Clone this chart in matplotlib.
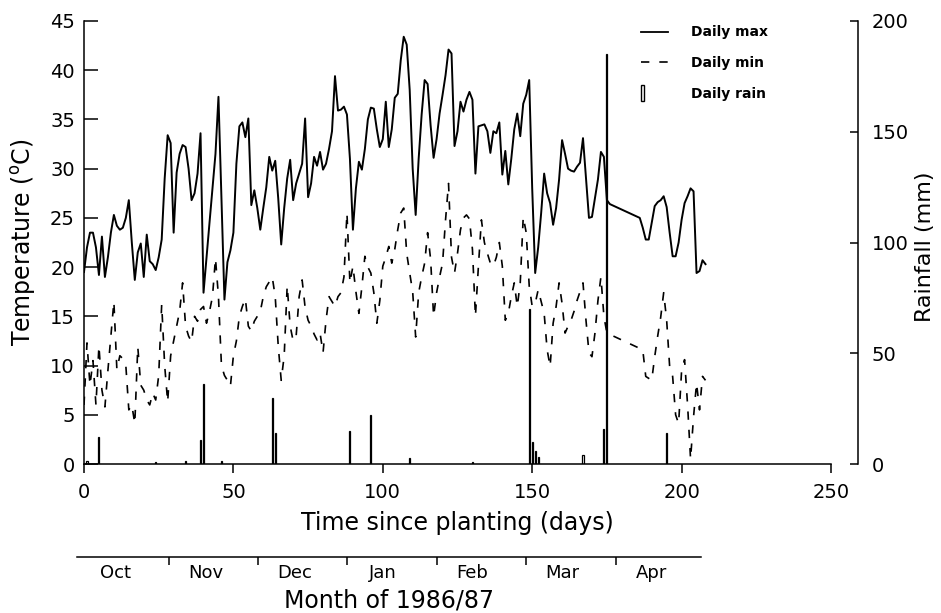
import matplotlib
matplotlib.use("Agg")
import matplotlib.pyplot as plt
import matplotlib.transforms as mtransforms
from matplotlib.lines import Line2D
from matplotlib.patches import Rectangle
from matplotlib.legend_handler import HandlerPatch

# daily maximum temperature (deg C); days 177-185 missing in the record
max_days = list(range(0, 177)) + list(range(186, 209))
max_temp = [
    19.5, 22.0, 23.5, 23.5, 22.0, 19.2, 23.1, 19.0, 21.0, 23.5,
    25.3, 24.2, 23.8, 24.0, 25.0, 26.8, 22.5, 18.7, 21.5, 22.4,
    19.0, 23.3, 20.6, 20.3, 19.7, 21.0, 22.8, 29.0, 33.4, 32.6,
    23.5, 29.6, 31.5, 32.4, 32.2, 30.0, 26.8, 27.5, 29.5, 33.6,
    17.4, 21.0, 24.5, 28.0, 31.5, 37.3, 27.0, 16.7, 20.5, 21.7,
    23.5, 30.5, 34.3, 34.7, 33.2, 35.1, 26.3, 27.8, 26.0, 23.8,
    26.0, 28.1, 31.2, 29.8, 30.8, 27.0, 22.3, 26.0, 29.0, 30.9,
    26.8, 28.5, 29.5, 30.5, 35.1, 27.1, 28.5, 31.2, 30.3, 31.7,
    29.9, 30.5, 32.0, 33.8, 39.4, 35.9, 36.0, 36.3, 35.5, 31.0,
    23.8, 28.0, 30.7, 29.9, 32.0, 35.0, 36.2, 36.1, 34.0, 32.2,
    33.0, 36.8, 32.2, 34.0, 37.2, 37.6, 41.0, 43.4, 42.6, 38.0,
    30.0, 25.3, 31.0, 35.5, 39.0, 38.6, 34.4, 31.1, 33.0, 35.6,
    37.5, 39.5, 42.1, 41.7, 32.3, 33.8, 36.8, 35.8, 37.0, 37.8,
    37.0, 29.5, 34.3, 34.4, 34.5, 33.8, 31.6, 33.8, 33.6, 34.7,
    29.4, 31.8, 28.4, 31.0, 34.0, 35.6, 33.3, 36.6, 37.5, 39.0,
    28.0, 19.4, 22.0, 25.5, 29.5, 27.5, 26.5, 24.3, 26.0, 28.9,
    32.9, 31.5, 30.0, 29.8, 29.7, 30.2, 30.6, 33.1, 29.0, 25.0,
    25.1, 27.0, 28.9, 31.7, 31.2, 26.8, 26.4,
    25.0, 24.0, 22.8, 22.8, 24.5, 26.2, 26.6, 26.8, 27.2, 26.1,
    23.5, 21.1, 21.1, 22.5, 24.8, 26.5, 27.2, 28.0, 27.7, 19.4,
    19.6, 20.7, 20.3,
]

# daily minimum temperature (deg C)
min_days = list(range(0, 176)) + list(range(187, 209))
min_temp = [
    6.0, 12.3, 8.0, 10.5, 6.0, 12.0, 7.5, 5.8, 9.5, 13.0,
    16.5, 9.6, 11.0, 10.7, 10.0, 5.5, 6.0, 4.1, 11.9, 8.0,
    7.5, 6.5, 6.0, 7.2, 6.5, 9.0, 16.2, 10.0, 6.3, 11.0,
    12.5, 14.0, 15.5, 18.4, 14.0, 13.0, 12.4, 15.0, 14.5, 15.7,
    16.0, 14.3, 15.5, 17.0, 20.9, 17.0, 10.0, 9.0, 8.5, 7.9,
    11.0, 12.5, 15.0, 16.0, 16.8, 14.0, 13.5, 14.5, 15.0, 15.5,
    17.0, 18.0, 18.5, 19.0, 17.0, 12.0, 8.5, 11.0, 18.1, 14.0,
    12.5, 13.0, 17.0, 18.7, 15.9, 14.6, 14.0, 13.2, 12.6, 13.3,
    11.3, 14.6, 17.0, 16.5, 16.0, 17.0, 17.4, 19.0, 25.5, 18.4,
    20.1, 17.5, 15.3, 18.0, 21.1, 20.0, 19.4, 17.4, 14.3, 16.6,
    20.1, 21.0, 22.1, 20.4, 21.8, 23.8, 25.5, 26.0, 21.4, 19.4,
    17.5, 12.9, 17.4, 19.0, 20.4, 23.5, 20.8, 15.0, 17.4, 19.0,
    20.4, 24.8, 28.5, 21.0, 19.4, 21.4, 23.8, 25.0, 25.3, 24.9,
    21.8, 15.0, 20.1, 24.8, 22.5, 21.4, 20.4, 20.1, 21.0, 22.5,
    20.1, 14.6, 15.3, 17.0, 18.4, 16.0, 18.4, 25.1, 23.5, 18.1,
    16.0, 16.3, 17.7, 16.5, 15.3, 11.6, 9.9, 14.3, 16.0, 18.4,
    16.3, 13.3, 14.0, 14.6, 15.5, 16.6, 17.5, 18.4, 14.6, 11.3,
    10.9, 13.3, 16.6, 19.0, 15.0, 13.3,
    11.6, 8.9, 8.7, 8.5, 10.9, 13.0, 14.9, 17.4, 14.6, 9.9,
    8.9, 5.0, 4.1, 9.5, 10.6, 6.0, 0.5, 4.8, 8.2, 5.5,
    8.9, 8.5,
]

# daily rainfall (mm), rain days only
rain_days = [1, 5, 24, 34, 39, 40, 46, 63, 64, 89, 96, 109, 130,
             149, 150, 151, 152, 167, 174, 175, 195]
rain_mm = [1.5, 12, 0.8, 1.2, 11, 36, 1.5, 30, 14, 15, 22, 2.5, 1,
           70, 10, 6, 3, 4, 16, 185, 14]

# calendar months along the day axis
month_edges = [28.5, 58.3, 88.0, 118.0, 148.0, 178.0]
month_centres = [10.4, 40.7, 70.6, 100.0, 130.0, 160.0, 190.0]
month_names = ["Oct", "Nov", "Dec", "Jan", "Feb", "Mar", "Apr"]
month_span = (-2.4, 206.6)

W, H = 941, 613
fig = plt.figure(figsize=(W / 100, H / 100), dpi=100)

x0, x1, ytop, ybot = 84, 831, 21, 464
ax = fig.add_axes([x0 / W, 1 - ybot / H, (x1 - x0) / W, (ybot - ytop) / H])
ax2 = ax.twinx()

ax.plot(max_days, max_temp, color="black", lw=1.4, solid_joinstyle="round")
ax.plot(min_days, min_temp, color="black", lw=1.2, linestyle=(0, (5, 6)))
ax2.bar(rain_days, rain_mm, width=0.35, facecolor="none", edgecolor="black",
        lw=0.9)

ax.set_xlim(0, 250)
ax.set_ylim(0, 45)
ax2.set_ylim(0, 200)
ax.set_xticks(range(0, 251, 50))
ax.set_yticks(range(0, 46, 5))
ax2.set_yticks(range(0, 201, 50))

for s in ("top", "right"):
    ax.spines[s].set_visible(False)
for s in ("top", "left", "bottom"):
    ax2.spines[s].set_visible(False)
ax2.spines["right"].set_position(("outward", 19.5))
for sp in (ax.spines["left"], ax.spines["bottom"], ax2.spines["right"]):
    sp.set_linewidth(1.1)

ax.tick_params(axis="x", direction="out", length=6.5, width=1.1, pad=7,
               labelsize=14)
ax.tick_params(axis="y", direction="in", length=10, width=1.1, pad=6.5,
               labelsize=14)
ax2.tick_params(axis="y", direction="in", length=6, width=1.1, pad=10,
                labelsize=14)

ax.set_xlabel("Time since planting (days)", fontsize=17)
ax.xaxis.set_label_coords(0.5, -0.105)
ax.set_ylabel(r"Temperature ($^{\mathrm{o}}$C)", fontsize=17)
ax.yaxis.set_label_coords(-0.062, 0.5)
ax2.set_ylabel("Rainfall (mm)", fontsize=16)
ax2.yaxis.set_label_coords(1.112, 0.49)


def rain_patch(legend, orig_handle, xdescent, ydescent, width, height,
               fontsize):
    return Rectangle((-xdescent, -ydescent + height / 2 - 0.8 * height),
                     0.14 * width, 1.6 * height, facecolor="none",
                     edgecolor="black", lw=0.9)


handles = [
    Line2D([], [], color="black", lw=1.3),
    Line2D([], [], color="black", lw=1.2, linestyle=(0, (5, 6))),
    Rectangle((0, 0), 1, 1, facecolor="none", edgecolor="black"),
]
labels = ["Daily max", "Daily min", "Daily rain"]
ax2.legend(handles, labels, loc="upper left", bbox_to_anchor=(0.745, 0.99),
           frameon=False, borderpad=0, borderaxespad=0, handlelength=2.0,
           handletextpad=1.6, labelspacing=1.2,
           prop={"size": 10, "weight": "bold"},
           handler_map={Rectangle: HandlerPatch(patch_func=rain_patch)})

# month axis below the day axis
ym = 557
axm = fig.add_axes([x0 / W, 1 - ym / H, (x1 - x0) / W, 0.0001])
axm.patch.set_visible(False)
axm.set_xlim(0, 250)
axm.set_yticks([])
for s in ("top", "left", "right"):
    axm.spines[s].set_visible(False)
axm.spines["bottom"].set_bounds(*month_span)
axm.spines["bottom"].set_linewidth(1.1)
axm.set_xticks(month_edges)
axm.set_xticks(month_centres, minor=True)
axm.set_xticklabels([""] * len(month_edges))
axm.set_xticklabels(month_names, minor=True)
axm.tick_params(axis="x", which="major", direction="out", length=6, width=1.1)
axm.tick_params(axis="x", which="minor", length=0, pad=5, labelsize=13)
trans = mtransforms.blended_transform_factory(axm.transData, fig.transFigure)
axm.text(sum(month_span) / 2, 1 - 600 / H, "Month of 1986/87", fontsize=17,
         ha="center", va="center", transform=trans)

fig.savefig("out.png", dpi=100)
